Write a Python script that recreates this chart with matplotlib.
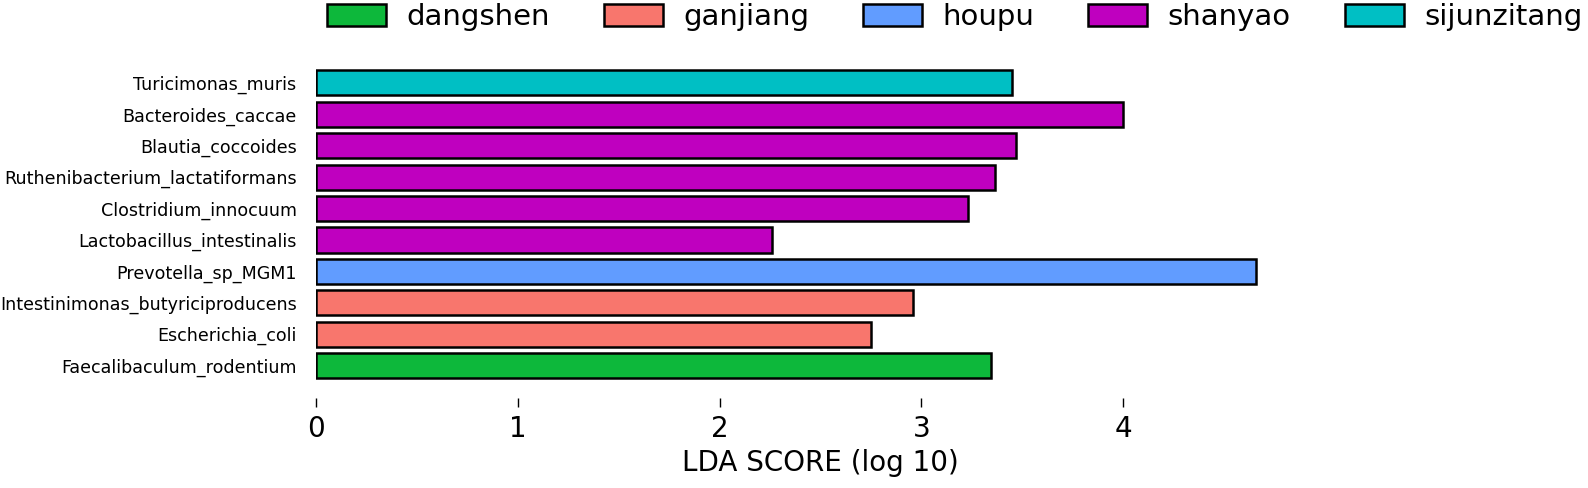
import numpy as np
from matplotlib import pyplot as plt
from matplotlib.patches import Patch

# features from bottom to top
features = ['Faecalibaculum_rodentium', 'Escherichia_coli',
            'Intestinimonas_butyriciproducens', 'Prevotella_sp_MGM1',
            'Lactobacillus_intestinalis', 'Clostridium_innocuum',
            'Ruthenibacterium_lactatiformans', 'Blautia_coccoides',
            'Bacteroides_caccae', 'Turicimonas_muris']
lda = [3.345, 2.75, 2.96, 4.66, 2.26, 3.23, 3.365, 3.47, 4.0, 3.45]
group = ['dangshen', 'ganjiang', 'ganjiang', 'houpu', 'shanyao', 'shanyao',
         'shanyao', 'shanyao', 'shanyao', 'sijunzitang']

groups = ['dangshen', 'ganjiang', 'houpu', 'shanyao', 'sijunzitang']
colors = ['#0DB83B', '#F8766D', '#619CFF', '#BF00BF', '#00BFC4']
col = dict(zip(groups, colors))

fig = plt.figure(figsize=(15.88, 4.88), dpi=100)
ax = fig.add_axes([316 / 1588, 90 / 488, 1009 / 1588, 334 / 488])

y = np.arange(len(features))
ax.barh(y, lda, height=0.8, color=[col[g] for g in group],
        edgecolor='black', linewidth=1.8)

ax.set_xlim(0, 5)
ax.set_ylim(-1.03, 9.6)
ax.set_xticks([0, 1, 2, 3, 4])
ax.set_yticks(y)
ax.set_yticklabels(features, fontsize=12.6)
ax.tick_params(axis='y', length=0, pad=14)
ax.tick_params(axis='x', direction='out', length=6.5, width=1, labelsize=20, pad=6)
for s in ax.spines.values():
    s.set_visible(False)
ax.set_xlabel('LDA SCORE (log 10)', fontsize=20, labelpad=4)

handles = [Patch(facecolor=col[g], edgecolor='black', linewidth=1.8, label=g) for g in groups]
fig.legend(handles=handles, loc='upper left', bbox_to_anchor=(327 / 1588, 1 - 3 / 488),
           ncol=5, frameon=False, fontsize=21, borderaxespad=0, borderpad=0,
           handlelength=2.02, handleheight=0.8, handletextpad=0.7, columnspacing=1.85)

fig.savefig('out.png', dpi=100)
